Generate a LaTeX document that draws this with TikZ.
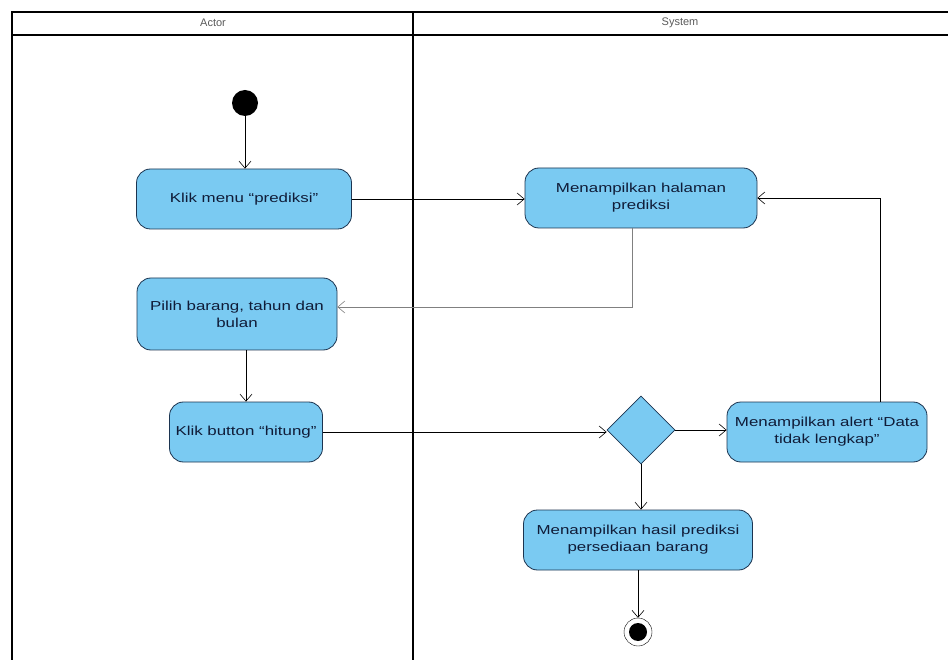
\documentclass[tikz,border=0pt]{standalone}
\usepackage{fontspec}
\setmainfont{Liberation Sans}
\newfontfamily\actfont[FakeStretch=1.3]{Liberation Sans}
\usetikzlibrary{arrows.meta,positioning,shapes.geometric}
\definecolor{actfill}{RGB}{122,202,242}
\definecolor{actline}{RGB}{28,52,80}
\definecolor{acttext}{RGB}{16,28,56}

\begin{document}
\begin{tikzpicture}[x=1pt,y=-1pt,>={Straight Barb[length=7pt,width=12pt]},
  act/.style={draw=actline,thick,fill=actfill,rounded corners=14pt,align=center,
    text=acttext,font=\actfont\fontsize{13}{17}\selectfont,minimum height=60pt,inner sep=2pt},
  flow/.style={->,semithick}]
  \useasboundingbox (0,0) rectangle (948,660);
  % swimlanes
  \draw[line width=1.6pt] (960,12) -- (12,12) -- (12,670);
  \draw[line width=1.6pt] (12,35) -- (960,35);
  \draw[line width=2.4pt] (413,12) -- (413,670);
  \node (actor) [text=gray!70!black,font=\fontsize{11}{13}\selectfont] at (213,23) {Actor};
  \node (system) [text=gray!70!black,font=\fontsize{11}{13}\selectfont] at (680,23) {System};
  % actor lane
  \node (start) [circle,fill=black,minimum size=26pt,inner sep=0pt] at (245,103) {};
  \node (klik) [act,minimum width=215pt] at (244,199) {Klik menu “prediksi”};
  \node (pilih) [act,minimum width=200pt,minimum height=72pt] at (237,314) {Pilih barang, tahun dan\\bulan};
  \node (button) [act,minimum width=153pt] at (246,432) {Klik button “hitung”};
  % system lane
  \node (halaman) [act,minimum width=232pt] at (641,198) {Menampilkan halaman\\prediksi};
  \node (dec) [diamond,draw=actline,thick,fill=actfill,minimum width=68pt,minimum height=68pt,inner sep=0pt] at (641,430) {};
  \node (alert) [act,minimum width=200pt] at (827,432) {Menampilkan alert “Data\\tidak lengkap”};
  \node (hasil) [act,minimum width=229pt] at (638,540) {Menampilkan hasil prediksi\\persediaan barang};
  \node (end) [circle,draw,fill=white,minimum size=28pt,inner sep=0pt] at (638,632) {};
  \node (endin) [circle,fill=black,minimum size=18pt,inner sep=0pt] at (end) {};
  % flows
  \draw[flow] (start) -- (start |- klik.north);
  \draw[flow] (klik.east) -- (klik.east -| halaman.west);
  \draw[flow,gray] ([xshift=-9pt]halaman.south) |- ([yshift=7pt]pilih.east);
  \draw[flow] (button.north |- pilih.south) -- (button.north);
  \draw[flow] (button.east) -- (button.east -| dec.west);
  \draw[flow] (dec.east) -- (dec.east -| alert.west);
  \draw[flow] ([xshift=53pt]alert.north) |- (halaman.east);
  \draw[flow] (dec.south) -- (dec.south |- hasil.north);
  \draw[flow] (hasil) -- (end);
\end{tikzpicture}
\end{document}
